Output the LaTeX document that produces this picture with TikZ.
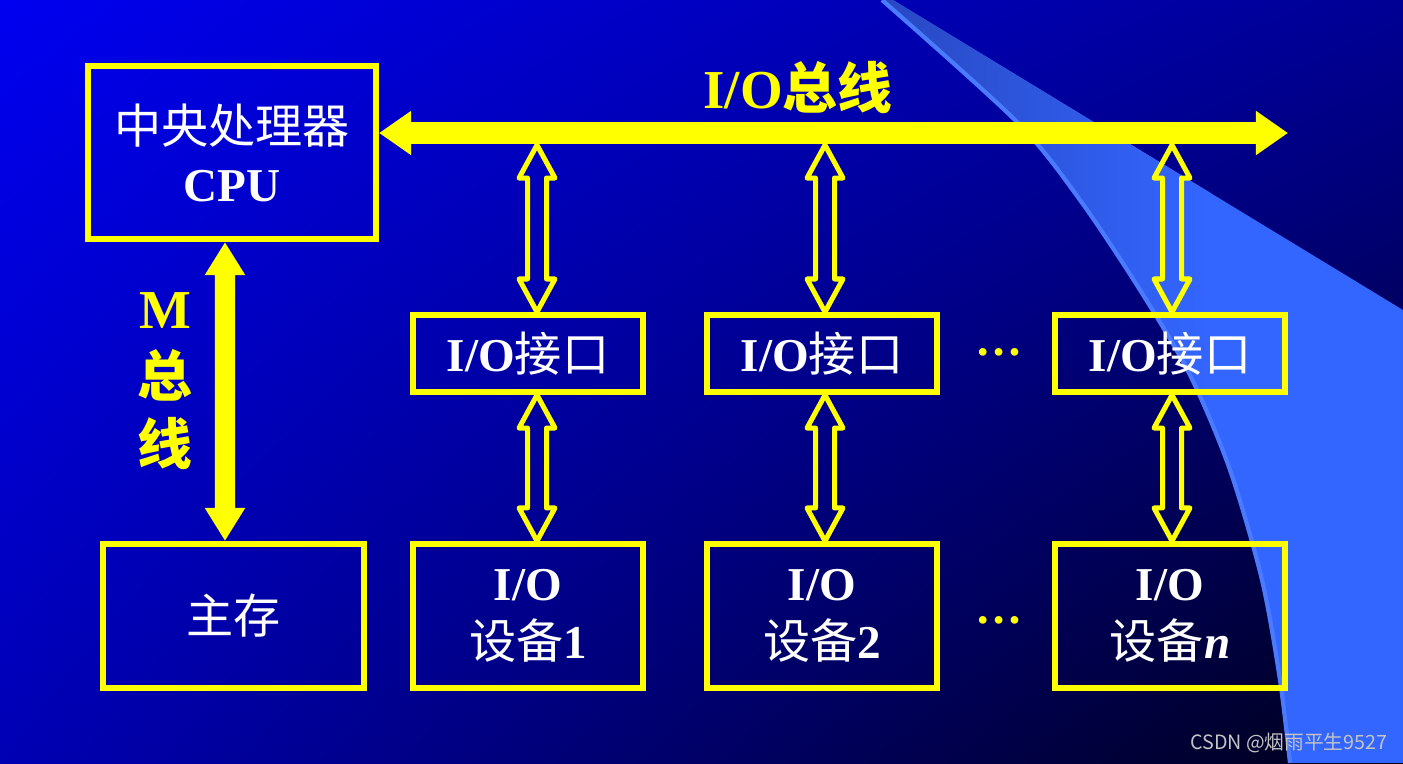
\documentclass[tikz,border=0pt]{standalone}
\usepackage{fontspec}
\setmainfont{Liberation Serif}
\newfontfamily\cjk{Noto Sans CJK SC}
\usetikzlibrary{arrows.meta,calc,shadings}
\definecolor{ylw}{HTML}{FFFF00}
\definecolor{bgul}{HTML}{0000F0}
\definecolor{bgur}{HTML}{000094}
\definecolor{bgll}{HTML}{0000B4}
\definecolor{bglr}{HTML}{000018}
\definecolor{swoosh}{HTML}{3366FF}
\definecolor{swooshdk}{HTML}{2846BE}
\definecolor{swooshln}{HTML}{4A7BFF}
\definecolor{wmgray}{HTML}{C4C4C4}
\newcommand\zh[1]{{\cjk #1}}
\newcommand\bodysz{\fontsize{13.4}{16.5}\selectfont}
\newcommand\lblsz{\fontsize{15.6}{19.3}\selectfont}
\newcommand\hollowlink[2]{%
  \draw[hollow] (#1) -- ++(18,33) -- ++(-8.5,0) -- ($(#2)+(9.5,-33)$) -- ++(8.5,0)
    -- (#2) -- ++(-18,-33) -- ++(8.5,0) -- ($(#1)+(-9.5,33)$) -- ++(-8.5,0) -- cycle;}
\tikzset{
  box/.style={draw=ylw,line width=1.7pt,align=center,text=white,font=\bodysz,inner sep=0pt},
  cpubox/.style={box,minimum width=2.88cm,minimum height=1.73cm},
  ifbox/.style={box,minimum width=2.30cm,minimum height=0.77cm},
  devbox/.style={box,minimum width=2.30cm,minimum height=1.44cm},
  membox/.style={box,minimum width=2.61cm,minimum height=1.44cm},
  buslbl/.style={text=ylw,font=\lblsz\bfseries,align=center,inner sep=0pt},
  bus/.style={draw=ylw,line width=0.22cm,{Triangle[length=0.32cm,width=0.42cm]}-{Triangle[length=0.32cm,width=0.42cm]}},
  mbus/.style={draw=ylw,line width=0.20cm,{Triangle[length=0.33cm,width=0.38cm]}-{Triangle[length=0.33cm,width=0.38cm]}},
  hollow/.style={draw=ylw,line width=0.05cm,line join=round},
  dots/.style={text=ylw,font=\bodysz\bfseries,inner sep=0pt},
  wmark/.style={text=wmgray,font=\cjk\fontsize{5.6}{6}\selectfont,inner sep=0pt}}

\begin{document}
\begin{tikzpicture}[x=0.01cm,y=-0.01cm]
\useasboundingbox (0,0) rectangle (1403,763);
\shade[upper left=bgul,upper right=bgur,lower left=bgll,lower right=bglr] (0,0) rectangle (1403,763);
\begin{scope}
\path[clip] (893,0) -- (1403,310) -- (1403,763) -- plot[smooth] coordinates {(1290,763) (1280,680) (1262,580) (1230,470) (1190,375) (1140,290) (1080,200) (1017,122) (882,0)} -- cycle;
\fill[swoosh] (850,0) rectangle (1403,763);
\shade[left color=swooshdk,right color=swoosh] (860,0) rectangle (1210,763);
\end{scope}
\draw[swooshln,line width=1.2pt] plot[smooth] coordinates {(1290,763) (1280,680) (1262,580) (1230,470) (1190,375) (1140,290) (1080,200) (1017,122) (882,0)};

\node[cpubox] (cpu) at (232,152.5) {\zh{中央处理器}\\\textbf{CPU}};
\node[membox] (mem) at (233.5,616) {\zh{主存}};
\node[ifbox] (if1) at (528,353.5) {\textbf{I/O}\zh{接口}};
\node[ifbox] (if2) at (822,353.5) {\textbf{I/O}\zh{接口}};
\node[ifbox] (if3) at (1170,353.5) {\textbf{I/O}\zh{接口}};
\node[devbox] (dev1) at (528,616) {\textbf{I/O}\\\zh{设备}\textbf{1}};
\node[devbox] (dev2) at (822,616) {\textbf{I/O}\\\zh{设备}\textbf{2}};
\node[devbox] (dev3) at (1170,616) {\textbf{I/O}\\\zh{设备}\textbf{\textit{n}}};
\node[dots] (dots1) at (999,352) {…};
\node[dots] (dots2) at (999,620) {…};

\coordinate (busend) at (1288,133);
\draw[bus] (cpu.east |- busend) -- (busend);
\node[buslbl] (buslbl) at (798,88) {I/O\zh{总线}};
\draw[mbus] ([xshift=-0.07cm]cpu.south) -- ([xshift=-0.085cm]mem.north);
\node[buslbl] (mlbl) at (165,381) {M\\\zh{总}\\\zh{线}};

\coordinate (tap1) at (537,145);
\coordinate (tap2) at (825,145);
\coordinate (tap3) at (1172,145);
\hollowlink{tap1}{tap1 |- if1.north}
\hollowlink{tap2}{tap2 |- if2.north}
\hollowlink{tap3}{tap3 |- if3.north}
\hollowlink{tap1 |- if1.south}{tap1 |- dev1.north}
\hollowlink{tap2 |- if2.south}{tap2 |- dev2.north}
\hollowlink{tap3 |- if3.south}{tap3 |- dev3.north}

\node[wmark,anchor=east] (wm) at (1388,743) {CSDN @烟雨平生9527};
\end{tikzpicture}
\end{document}
